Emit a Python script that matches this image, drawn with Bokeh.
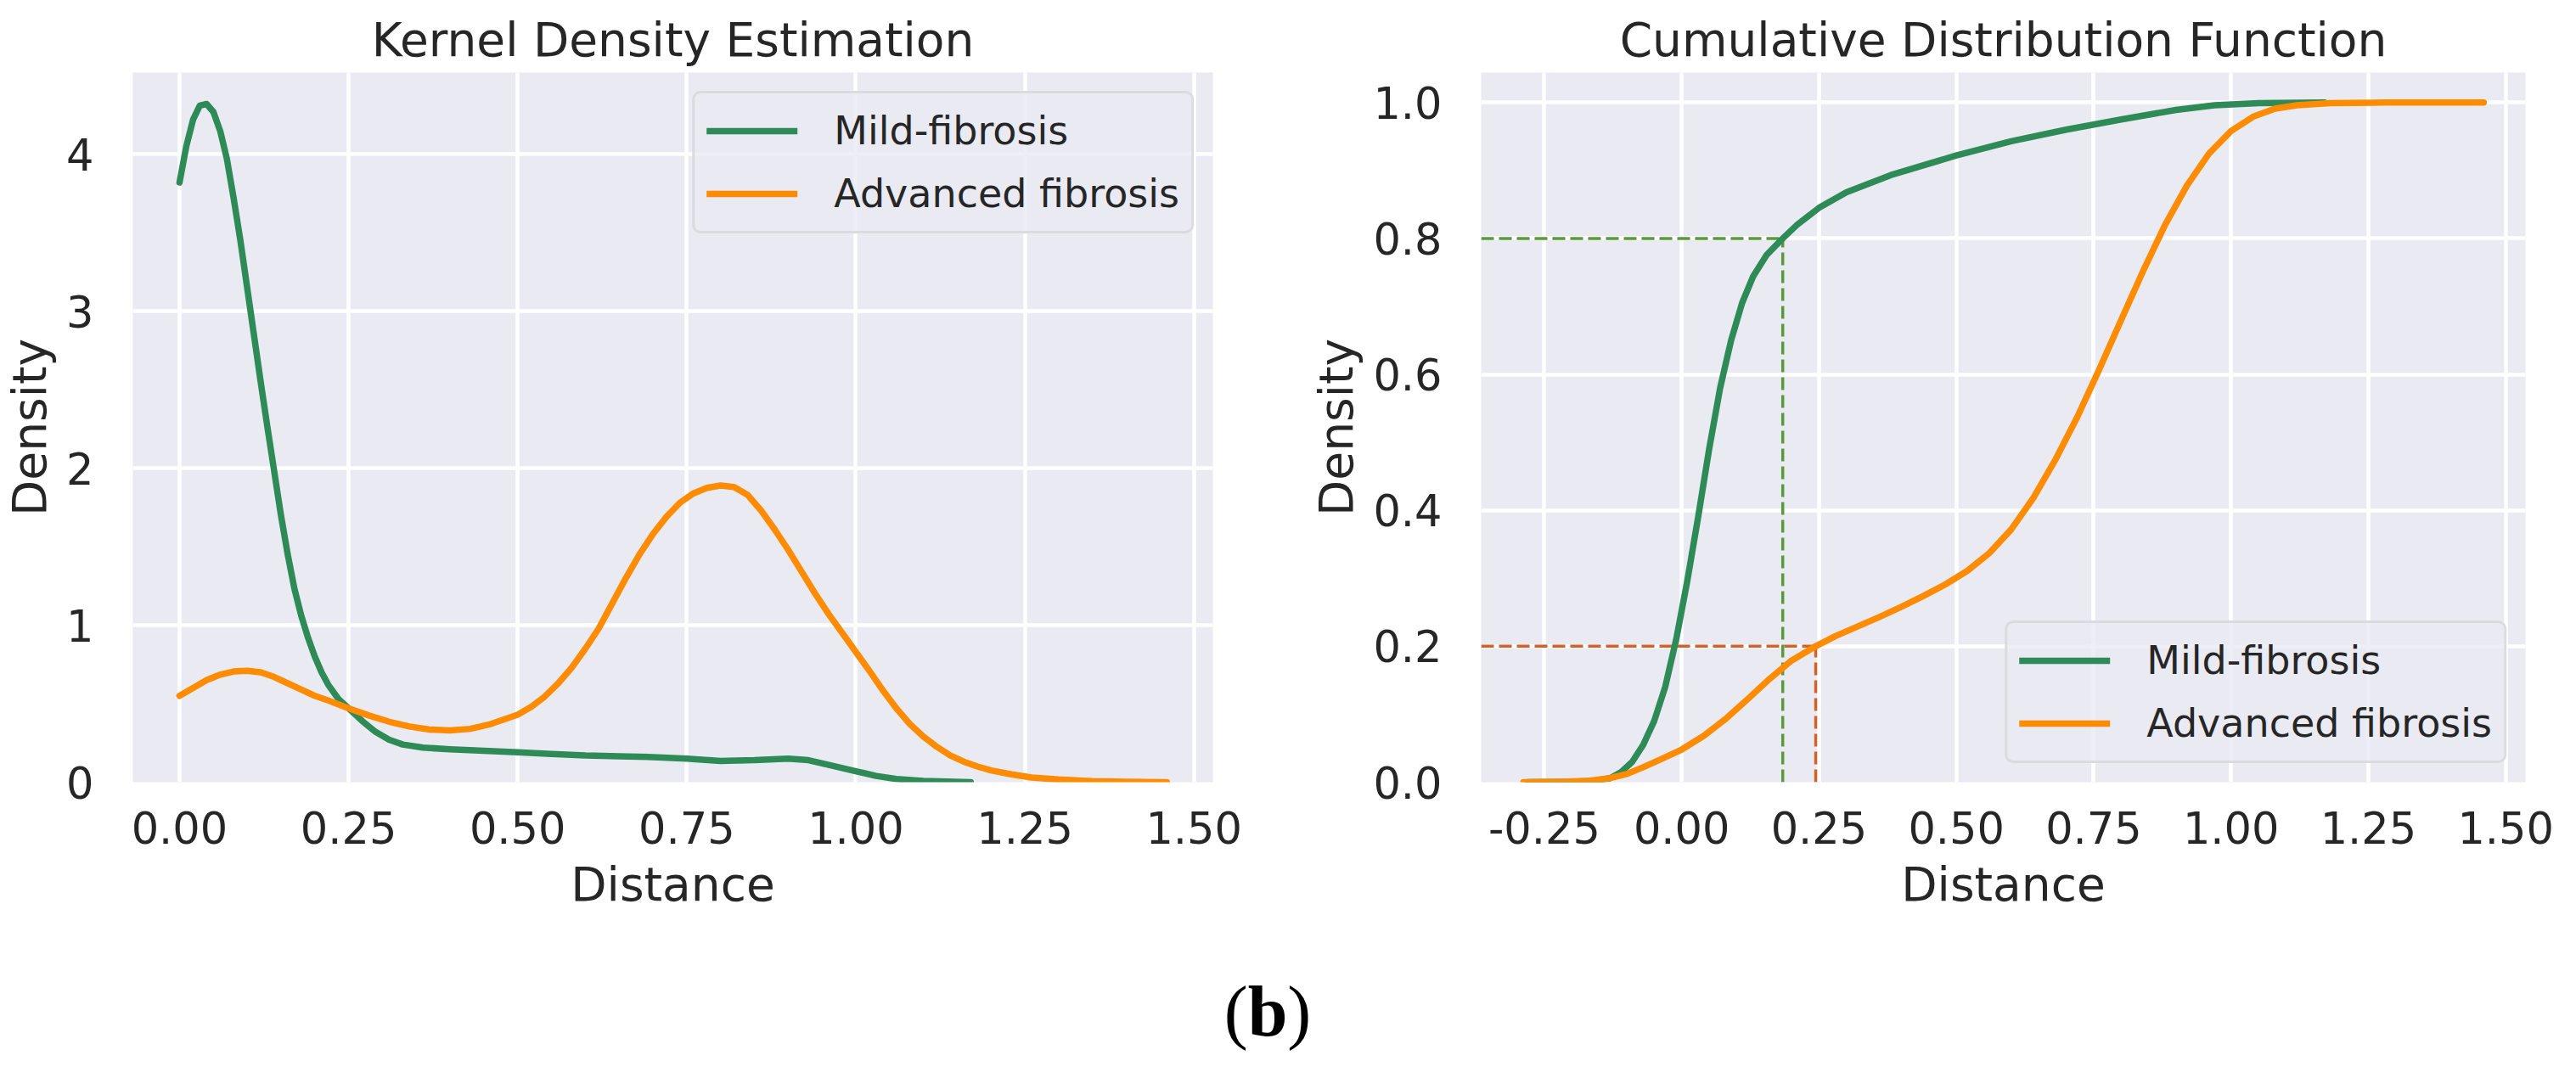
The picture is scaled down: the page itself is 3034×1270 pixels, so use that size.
from bokeh.embed import file_html
from bokeh.layouts import column, row
from bokeh.models import Div, FixedTicker, NumeralTickFormatter, Range1d
from bokeh.plotting import figure
from bokeh.resources import INLINE


FONT = "DejaVu Sans"
TEXT = "#262626"
BG = "#eaeaf2"
MILD_COLOR = "#2e8b57"
ADV_COLOR = "#ff8c00"
LINE_W = 7.5

# --- kernel density estimate (left panel) ---
mild_kde_x = [0.00, 0.01, 0.02, 0.03, 0.04, 0.05, 0.06, 0.07, 0.08, 0.09, 0.10, 0.11,
              0.12, 0.13, 0.14, 0.15, 0.16, 0.17, 0.18, 0.19, 0.20, 0.21, 0.22, 0.235,
              0.25, 0.27, 0.29, 0.31, 0.33, 0.36, 0.40, 0.45, 0.50, 0.55, 0.60, 0.65,
              0.70, 0.75, 0.80, 0.85, 0.90, 0.93, 0.96, 1.00, 1.03, 1.06, 1.10, 1.17]
mild_kde_y = [3.82, 4.05, 4.22, 4.31, 4.32, 4.27, 4.15, 3.97, 3.72, 3.45, 3.15, 2.85,
              2.55, 2.26, 1.98, 1.70, 1.45, 1.23, 1.06, 0.92, 0.80, 0.70, 0.62, 0.53,
              0.47, 0.39, 0.32, 0.27, 0.24, 0.22, 0.21, 0.20, 0.19, 0.18, 0.17, 0.165,
              0.16, 0.15, 0.135, 0.14, 0.15, 0.14, 0.11, 0.07, 0.04, 0.02, 0.008, 0.0]

adv_kde_x = [0.00, 0.02, 0.04, 0.06, 0.08, 0.10, 0.12, 0.14, 0.16, 0.18, 0.20, 0.22,
             0.25, 0.28, 0.31, 0.34, 0.37, 0.40, 0.43, 0.46, 0.48, 0.50, 0.52, 0.54,
             0.56, 0.58, 0.60, 0.62, 0.64, 0.66, 0.68, 0.70, 0.72, 0.74, 0.76, 0.78,
             0.80, 0.82, 0.84, 0.86, 0.88, 0.90, 0.92, 0.94, 0.96, 0.98, 1.00, 1.02,
             1.04, 1.06, 1.08, 1.10, 1.12, 1.14, 1.16, 1.18, 1.20, 1.23, 1.26, 1.30,
             1.35, 1.40, 1.46]
adv_kde_y = [0.55, 0.60, 0.65, 0.685, 0.705, 0.71, 0.70, 0.67, 0.63, 0.59, 0.55, 0.52,
             0.47, 0.425, 0.385, 0.355, 0.335, 0.33, 0.34, 0.37, 0.40, 0.43, 0.48, 0.545,
             0.63, 0.73, 0.85, 0.98, 1.14, 1.30, 1.45, 1.58, 1.69, 1.78, 1.84, 1.875,
             1.89, 1.88, 1.83, 1.73, 1.61, 1.48, 1.34, 1.20, 1.07, 0.95, 0.83, 0.71,
             0.585, 0.47, 0.37, 0.29, 0.225, 0.17, 0.13, 0.10, 0.075, 0.05, 0.03, 0.017,
             0.007, 0.003, 0.0]

# --- cumulative distribution (right panel) ---
mild_cdf_x = [-0.28, -0.20, -0.16, -0.13, -0.11, -0.09, -0.07, -0.05, -0.03, -0.01,
              0.01, 0.03, 0.05, 0.07, 0.09, 0.11, 0.13, 0.155, 0.184, 0.21, 0.25, 0.30,
              0.38, 0.50, 0.60, 0.70, 0.80, 0.90, 0.97, 1.05, 1.17]
mild_cdf_y = [0.0, 0.0005, 0.002, 0.006, 0.015, 0.03, 0.055, 0.09, 0.14, 0.21,
              0.295, 0.39, 0.49, 0.58, 0.65, 0.705, 0.744, 0.776, 0.80, 0.82, 0.845, 0.868,
              0.893, 0.922, 0.943, 0.960, 0.975, 0.989, 0.996, 0.999, 1.0]

adv_cdf_x = [-0.288, -0.22, -0.17, -0.13, -0.10, -0.07, -0.04, 0.00, 0.04, 0.08, 0.12,
             0.16, 0.20, 0.244, 0.28, 0.32, 0.36, 0.40, 0.44, 0.48, 0.52, 0.56, 0.60,
             0.64, 0.68, 0.72, 0.76, 0.80, 0.84, 0.88, 0.92, 0.96, 1.00, 1.04, 1.08,
             1.12, 1.18, 1.28, 1.46]
adv_cdf_y = [0.0, 0.0005, 0.002, 0.006, 0.012, 0.022, 0.033, 0.048, 0.068, 0.093, 0.122,
             0.152, 0.179, 0.200, 0.215, 0.229, 0.243, 0.258, 0.274, 0.291, 0.311, 0.337, 0.372,
             0.418, 0.474, 0.537, 0.607, 0.680, 0.752, 0.820, 0.878, 0.925, 0.958, 0.979, 0.991,
             0.996, 0.999, 1.0, 1.0]

# reference levels marked with dashed guides
guide_levels = [0.8, 0.2]
guide_distances = [0.184, 0.244]
guide_colors = ["#5b9a3a", "#d2622a"]

series_names = ["Mild-fibrosis", "Advanced fibrosis"]

kde_x_ticks = [0.0, 0.25, 0.5, 0.75, 1.0, 1.25, 1.5]
kde_y_ticks = [0, 1, 2, 3, 4]
cdf_x_ticks = [-0.25, 0.0, 0.25, 0.5, 0.75, 1.0, 1.25, 1.5]
cdf_y_ticks = [0.0, 0.2, 0.4, 0.6, 0.8, 1.0]


def style_panel(p, x_ticks, x_fmt, y_ticks, y_fmt):
    p.background_fill_color = BG
    p.border_fill_color = "white"
    p.outline_line_color = None

    p.title.text_font = FONT
    p.title.text_font_size = "55px"
    p.title.text_font_style = "normal"
    p.title.text_color = TEXT
    p.title.align = "center"
    p.title.standoff = 13

    for axis in (p.xaxis[0], p.yaxis[0]):
        axis.axis_line_color = None
        axis.major_tick_line_color = None
        axis.minor_tick_line_color = None
        axis.major_tick_out = 0
        axis.major_tick_in = 0
        axis.minor_tick_out = 0
        axis.minor_tick_in = 0
        axis.major_label_text_font = FONT
        axis.major_label_text_font_size = "51px"
        axis.major_label_text_color = TEXT
        axis.axis_label_text_font = FONT
        axis.axis_label_text_font_size = "55px"
        axis.axis_label_text_font_style = "normal"
        axis.axis_label_text_color = TEXT

    p.xaxis.ticker = FixedTicker(ticks=x_ticks)
    p.yaxis.ticker = FixedTicker(ticks=y_ticks)
    p.xaxis.formatter = NumeralTickFormatter(format=x_fmt)
    p.yaxis.formatter = NumeralTickFormatter(format=y_fmt)
    p.xaxis.major_label_standoff = 34
    p.yaxis.major_label_standoff = 46
    p.xaxis.axis_label_standoff = 13
    p.yaxis.axis_label_standoff = 8

    for grid in (p.xgrid[0], p.ygrid[0]):
        grid.grid_line_color = "white"
        grid.grid_line_width = 4.5


def style_legend(p, location):
    leg = p.legend[0]
    leg.location = location
    leg.margin = 22
    leg.padding = 14
    leg.spacing = 14
    leg.glyph_width = 107
    leg.glyph_height = 60
    leg.label_height = 60
    leg.label_standoff = 43
    leg.label_text_font = FONT
    leg.label_text_font_size = "46px"
    leg.label_text_color = TEXT
    leg.background_fill_color = BG
    leg.background_fill_alpha = 0.8
    leg.border_line_color = "#cccccc"
    leg.border_line_width = 3
    if "border_radius" in leg.properties():
        leg.border_radius = 10


kde = figure(
    width=1530, height=1100,
    x_range=Range1d(-0.069, 1.528), y_range=Range1d(0, 4.52),
    title="Kernel Density Estimation",
    x_axis_label="Distance", y_axis_label="Density",
    min_border_left=154, min_border_right=102,
    min_border_top=85, min_border_bottom=179,
    toolbar_location=None, output_backend="svg",
)
style_panel(kde, kde_x_ticks, "0.00", kde_y_ticks, "0")
kde.line(mild_kde_x, mild_kde_y, line_width=LINE_W, color=MILD_COLOR,
         line_join="round", line_cap="round", legend_label=series_names[0])
kde.line(adv_kde_x, adv_kde_y, line_width=LINE_W, color=ADV_COLOR,
         line_join="round", line_cap="round", legend_label=series_names[1])
style_legend(kde, "top_right")

cdf_x_start = -0.365
cdf = figure(
    width=1488, height=1100,
    x_range=Range1d(cdf_x_start, 1.536), y_range=Range1d(0, 1.044),
    title="Cumulative Distribution Function",
    x_axis_label="Distance", y_axis_label="Density",
    min_border_left=214, min_border_right=44,
    min_border_top=85, min_border_bottom=179,
    toolbar_location=None, output_backend="svg",
)
style_panel(cdf, cdf_x_ticks, "0.00", cdf_y_ticks, "0.0")

for level, dist, col in zip(guide_levels, guide_distances, guide_colors):
    cdf.segment(x0=[cdf_x_start], y0=[level], x1=[dist], y1=[level],
                line_color=col, line_width=3.5, line_dash="15 6")
    cdf.segment(x0=[dist], y0=[0], x1=[dist], y1=[level],
                line_color=col, line_width=3.5, line_dash="15 6")

cdf.line(mild_cdf_x, mild_cdf_y, line_width=LINE_W, color=MILD_COLOR,
         line_join="round", line_cap="round", legend_label=series_names[0])
cdf.line(adv_cdf_x, adv_cdf_y, line_width=LINE_W, color=ADV_COLOR,
         line_join="round", line_cap="round", legend_label=series_names[1])
style_legend(cdf, "bottom_right")

caption = Div(
    text=(
        '<span style="font-weight:normal">(</span>'
        '<span style="font-weight:bold">b</span>'
        '<span style="font-weight:normal">)</span>'
    ),
    width=2986, height=140, margin=0,
    styles={
        "text-align": "center",
        "font-family": "Liberation Serif",
        "font-size": "84px",
        "font-weight": "normal",
        "line-height": "1",
        "padding-top": "50px",
        "color": "black",
    },
)

layout = column(row(kde, cdf), caption)

with open("out.html", "w") as f:
    f.write(file_html(layout, INLINE))
